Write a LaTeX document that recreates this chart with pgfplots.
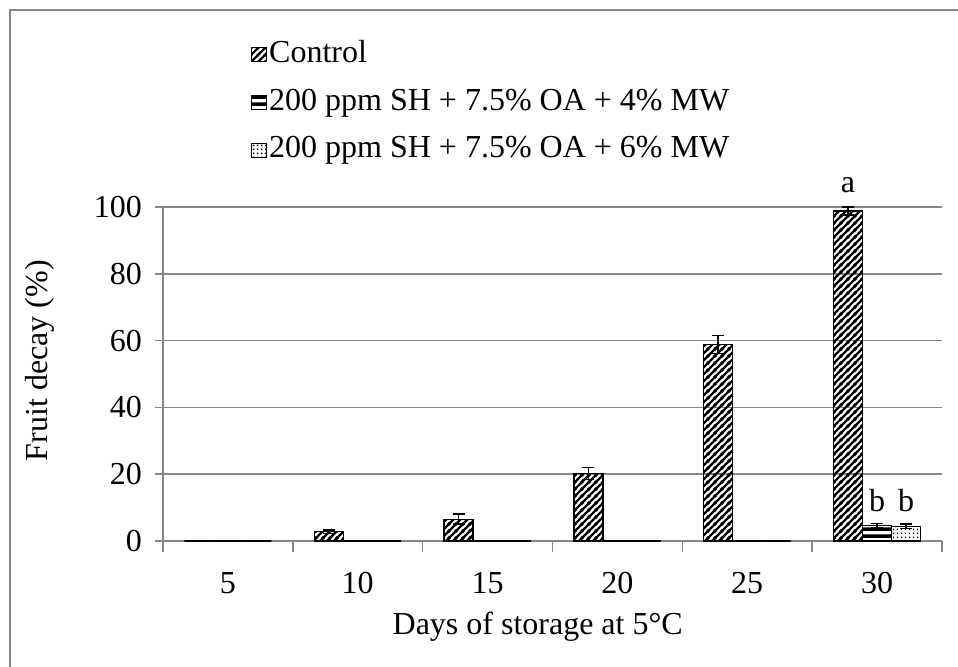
\documentclass[border=0pt]{standalone}
\usepackage{pgfplots}
\usepackage{pgfplotstable}
\pgfplotsset{compat=1.18}
\usepackage{fontspec}
\setmainfont{Liberation Serif}
\usetikzlibrary{patterns}
\definecolor{axisgray}{HTML}{868686}

\pgfdeclarepatternformonly{wideNE}{\pgfqpoint{0pt}{0pt}}{\pgfqpoint{3.4pt}{3.4pt}}{\pgfqpoint{3.4pt}{3.4pt}}{%
  \pgfsetlinewidth{1.2pt}%
  \pgfpathmoveto{\pgfqpoint{-1pt}{-1pt}}\pgfpathlineto{\pgfqpoint{4.4pt}{4.4pt}}%
  \pgfpathmoveto{\pgfqpoint{-1pt}{2.4pt}}\pgfpathlineto{\pgfqpoint{1pt}{4.4pt}}%
  \pgfpathmoveto{\pgfqpoint{2.4pt}{-1pt}}\pgfpathlineto{\pgfqpoint{4.4pt}{1pt}}%
  \pgfusepath{stroke}}
\pgfdeclarepatternformonly{wideH}{\pgfqpoint{0pt}{0pt}}{\pgfqpoint{6pt}{3.6pt}}{\pgfqpoint{6pt}{3.6pt}}{%
  \pgfpathrectangle{\pgfqpoint{-1pt}{0pt}}{\pgfqpoint{8pt}{2pt}}\pgfusepath{fill}}
\pgfdeclarepatternformonly{smalldots}{\pgfqpoint{0pt}{0pt}}{\pgfqpoint{2pt}{2pt}}{\pgfqpoint{2pt}{2pt}}{%
  \pgfpathrectangle{\pgfqpoint{0.5pt}{0.5pt}}{\pgfqpoint{0.9pt}{0.9pt}}\pgfusepath{fill}}

\pgfplotstableread{
x y e
0 0 0
1 2.8 0.5
2 6.5 1.5
3 20.2 1.8
4 58.8 2.7
5 98.8 1.2
}\control
\pgfplotstableread{
x y e
0 0 0
1 0 0
2 0 0
3 0 0
4 0 0
5 4.6 0.6
}\mwfour
\pgfplotstableread{
x y e
0 0 0
1 0 0
2 0 0
3 0 0
4 0 0
5 4.4 0.6
}\mwsix

\begin{document}
\begin{tikzpicture}[font=\fontsize{16}{18}\selectfont]
\path[use as bounding box] (0pt,0pt) rectangle (479pt,333.5pt);
\draw[axisgray, line width=1pt] (5pt,0pt) -- (5pt,328.5pt) -- (479pt,328.5pt);
\begin{axis}[
  at={(81.5pt,63pt)}, anchor=south west,
  scale only axis, width=389.5pt, height=167pt,
  xmin=-0.5, xmax=5.5, ymin=0, ymax=100,
  clip=false,
  ybar, bar width=14.5pt,
  axis x line*=bottom, axis y line*=left,
  axis line style={draw=axisgray, line width=0.8pt, -},
  xtick={0,...,5}, xticklabels={5,10,15,20,25,30},
  minor xtick={-0.5,0.5,...,5.5},
  major x tick style={draw=none},
  minor x tick style={draw=axisgray, line width=0.8pt},
  major y tick style={draw=axisgray, line width=0.8pt},
  tick align=outside, major tick length=4pt, minor tick length=5.5pt,
  ytick={0,20,...,100},
  ymajorgrids, grid style={draw=axisgray, line width=0.8pt},
  /pgf/number format/assume math mode=true,
  ticklabel style={font=\fontsize{16}{18}\selectfont},
  xticklabel style={yshift=-8pt},
  yticklabel style={xshift=-3pt},
  xlabel={Days of storage at 5°C},
  ylabel={Fruit decay (\%)},
  xlabel style={at={(axis description cs:0.481,-0.257)}, anchor=center, font=\fontsize{16}{18}\selectfont},
  ylabel style={at={(axis description cs:-0.158,0.54)}, anchor=center, rotate=0, font=\fontsize{16}{18}\selectfont},
  every axis plot post/.append style={
    legend image code/.code={\draw[##1,/tikz/.cd,draw=black,line width=0.4pt] (0pt,-3.5pt) rectangle (7.5pt,3.5pt);}},
  legend style={at={(axis description cs:0.113,1.506)}, anchor=north west, draw=none, fill=none,
    inner sep=0pt, outer sep=0pt, row sep=7pt, column sep=0pt,
    font=\fontsize{16}{18}\selectfont,
    nodes={inner sep=1.2pt, text height=11pt, text depth=3.5pt}},
  legend cell align=left,
]
\addplot[draw=black, line width=0.6pt, pattern=wideNE, bar shift=-14.5pt,
  error bars/.cd, y dir=both, y explicit,
  error bar style={black, line width=0.8pt},
  error mark options={rotate=90, mark size=3pt, black, line width=0.8pt}]
  table[x=x, y=y, y error=e]{\control};
\addlegendentry{Control}
\addplot[draw=black, line width=0.6pt, pattern=wideH, bar shift=0pt,
  error bars/.cd, y dir=both, y explicit,
  error bar style={black, line width=0.8pt},
  error mark options={rotate=90, mark size=3pt, black, line width=0.8pt}]
  table[x=x, y=y, y error=e]{\mwfour};
\addlegendentry{200 ppm SH + 7.5\% OA + 4\% MW}
\addplot[draw=black, line width=0.6pt, pattern=smalldots, bar shift=14.5pt,
  error bars/.cd, y dir=both, y explicit,
  error bar style={black, line width=0.8pt},
  error mark options={rotate=90, mark size=3pt, black, line width=0.8pt}]
  table[x=x, y=y, y error=e]{\mwsix};
\addlegendentry{200 ppm SH + 7.5\% OA + 6\% MW}
\node[font=\fontsize{16}{18}\selectfont] at (axis cs:5,106.5) [xshift=-14.5pt] {a};
\node[font=\fontsize{16}{18}\selectfont] at (axis cs:5,12) {b};
\node[font=\fontsize{16}{18}\selectfont] at (axis cs:5,12) [xshift=14.5pt] {b};
\end{axis}
\end{tikzpicture}
\end{document}
